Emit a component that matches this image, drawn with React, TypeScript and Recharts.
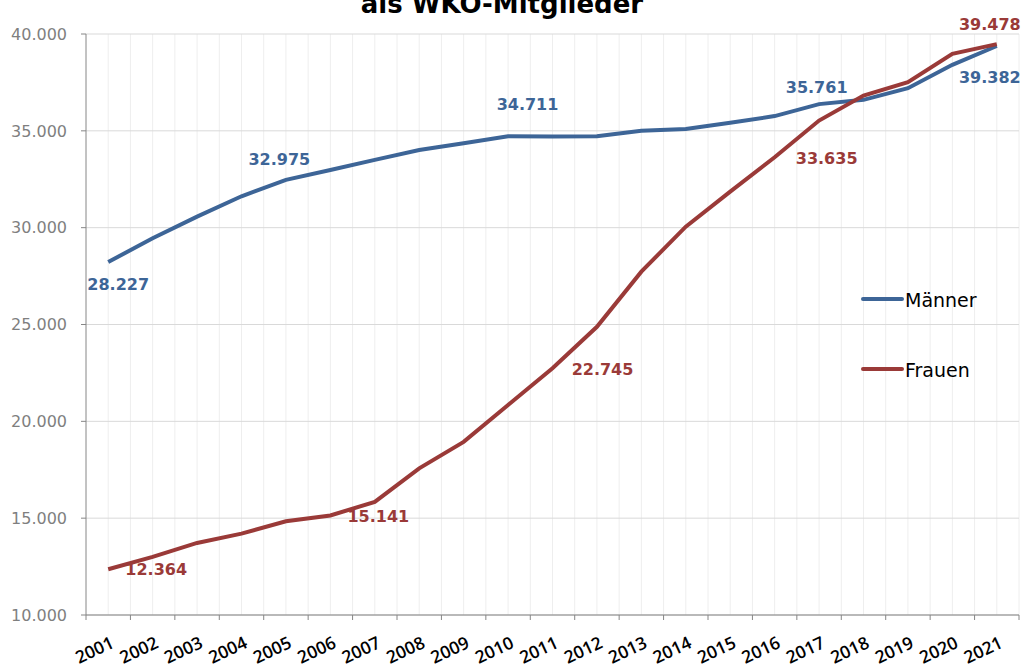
import { CartesianGrid, Line, LineChart, XAxis, YAxis } from "recharts";

const years = [
  "2001", "2002", "2003", "2004", "2005", "2006", "2007", "2008", "2009", "2010", "2011",
  "2012", "2013", "2014", "2015", "2016", "2017", "2018", "2019", "2020", "2021",
];

const maenner = [
  28227, 29450, 30570, 31620, 32470, 32975, 33500, 34010, 34360, 34720, 34711,
  34720, 35000, 35100, 35420, 35761, 36380, 36600, 37200, 38410, 39382,
];

const frauen = [
  12364, 13000, 13720, 14200, 14840, 15141, 15840, 17570, 18940, 20840, 22745,
  24880, 27730, 30050, 31860, 33635, 35530, 36820, 37510, 38980, 39478,
];

const yTicks = [10000, 15000, 20000, 25000, 30000, 35000, 40000];

// nur diese Jahre bekommen einen Wert
const labeledYears = ["2001", "2006", "2011", "2016", "2021"];

const seriesNames = ["Männer", "Frauen"];

const data = years.map((year, i) => ({ year, maenner: maenner[i], frauen: frauen[i] }));

const W = 1029;
const H = 669;
const M = { top: 34, right: 10, left: 0, bottom: 0 };
const Y_W = 86;
const X_H = 54;
const PLOT_W = W - M.left - M.right - Y_W;

const BLUE = "#3d6597";
const RED = "#9a3a38";
const AXIS = "#868686";

// Versatz der Datenbeschriftung relativ zum Punkt (wie im Original verschoben)
const maennerOffset: Record<string, [number, number]> = {
  "2001": [10, 28],
  "2006": [-51, -5],
  "2011": [-25, -26],
  "2016": [42, -23],
  "2021": [-7, 37],
};
const frauenOffset: Record<string, [number, number]> = {
  "2001": [48, 6],
  "2006": [48, 7],
  "2011": [50, 7],
  "2016": [52, 7],
  "2021": [-7, -14],
};

const fmt = (v: number) => String(v).replace(/\B(?=(\d{3})+(?!\d))/g, ".");

const renderLabel = (p: any, offsets: Record<string, [number, number]>, color: string) => {
  const year = years[p.index];
  if (!labeledYears.includes(year) || p.x == null || p.y == null) {
    return <g key={`l-${p.index}`} />;
  }
  const [dx, dy] = offsets[year];
  return (
    <text
      key={`l-${p.index}`}
      x={p.x + dx}
      y={p.y + dy}
      textAnchor="middle"
      fill={color}
      fontFamily="DejaVu Sans"
      fontWeight="bold"
      fontSize={16}
    >
      {fmt(p.value)}
    </text>
  );
};

const YearTick = (props: any) => {
  const { x, y, payload, index } = props;
  const bw = PLOT_W / years.length;
  return (
    <g>
      <line x1={x - bw / 2} x2={x - bw / 2} y1={y} y2={y + 5} stroke={AXIS} />
      {index === years.length - 1 && (
        <line x1={x + bw / 2} x2={x + bw / 2} y1={y} y2={y + 5} stroke={AXIS} />
      )}
      <text
        x={x + 7}
        y={y + 32}
        textAnchor="end"
        transform={`rotate(-25, ${x + 7}, ${y + 32})`}
        fill="#000"
        fontFamily="Open Sans"
        fontWeight={600}
        fontSize={17.5}
      >
        {payload.value}
      </text>
    </g>
  );
};

const LegendBox = () => {
  const colors = [BLUE, RED];
  return (
    <svg width={170} height={110} style={{ position: "absolute", left: 855, top: 280 }}>
      {seriesNames.map((name, i) => (
        <g key={name} transform={`translate(0, ${i * 70})`}>
          <line x1={8} x2={47} y1={19} y2={19} stroke={colors[i]} strokeWidth={4} strokeLinecap="round" />
          <text x={50} y={26.5} fontFamily="DejaVu Sans" fontSize={19} fill="#000">
            {name}
          </text>
        </g>
      ))}
    </svg>
  );
};

export default function App() {
  return (
    <div
      style={{
        position: "absolute",
        left: 0,
        top: 0,
        width: W,
        height: H,
        background: "#fff",
        overflow: "hidden",
      }}
    >
      <div
        style={{
          position: "absolute",
          left: 0,
          top: -9,
          width: 1004,
          textAlign: "center",
          fontFamily: "DejaVu Sans",
          fontWeight: "bold",
          fontSize: 26,
          lineHeight: "26px",
          color: "#000",
        }}
      >
        als WKO-Mitglieder
      </div>
      <LineChart width={W} height={H} data={data} margin={M}>
        <CartesianGrid
          horizontal={false}
          stroke="#eeeeee"
          verticalCoordinatesGenerator={({ offset }: any) =>
            Array.from({ length: years.length * 2 }, (_, k) => offset.left + ((k + 1) * offset.width) / (years.length * 2))
          }
        />
        <CartesianGrid vertical={false} stroke="#d9d9d9" />
        <XAxis
          dataKey="year"
          scale="band"
          interval={0}
          height={X_H}
          tickLine={false}
          tickSize={0}
          tickMargin={0}
          axisLine={{ stroke: AXIS }}
          tick={<YearTick />}
        />
        <YAxis
          type="number"
          domain={[10000, 40000]}
          ticks={yTicks}
          width={Y_W}
          tickFormatter={fmt}
          tickSize={5}
          tickMargin={14}
          axisLine={{ stroke: AXIS }}
          tickLine={{ stroke: AXIS }}
          tick={{ fill: "#7f7f7f", fontSize: 16, fontFamily: "DejaVu Sans" }}
        />
        <Line
          name={seriesNames[0]}
          dataKey="maenner"
          type="linear"
          stroke={BLUE}
          strokeWidth={4}
          dot={false}
          activeDot={false}
          isAnimationActive={false}
          label={(p: any) => renderLabel(p, maennerOffset, BLUE)}
        />
        <Line
          name={seriesNames[1]}
          dataKey="frauen"
          type="linear"
          stroke={RED}
          strokeWidth={4}
          dot={false}
          activeDot={false}
          isAnimationActive={false}
          label={(p: any) => renderLabel(p, frauenOffset, RED)}
        />
      </LineChart>
      <LegendBox />
    </div>
  );
}
